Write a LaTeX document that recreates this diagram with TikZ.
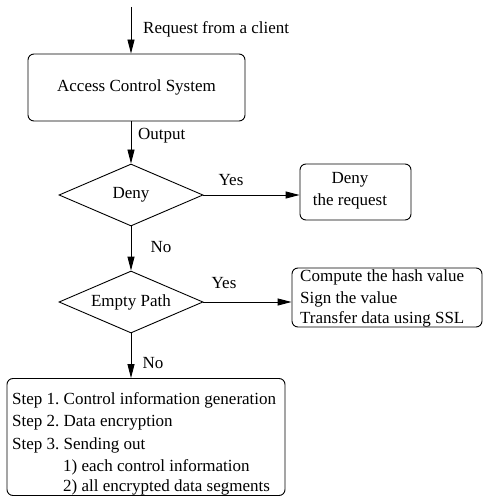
\documentclass[tikz,border=0pt]{standalone}
\usepackage{fontspec}
\setmainfont{Liberation Serif}
\usetikzlibrary{shapes.geometric,arrows.meta}
\begin{document}
\frenchspacing
\begin{tikzpicture}[x=1pt,y=-1pt,
  every node/.style={font=\fontsize{17}{22}\selectfont},
  box/.style={draw,line width=0.9pt,rounded corners=6pt,inner sep=0pt},
  dec/.style={draw,line width=0.9pt,diamond,shape aspect=2.3,inner sep=0pt,minimum width=144pt,minimum height=62pt},
  lbl/.style={inner sep=0pt},
  conn/.style={line width=0.9pt,-{Triangle[length=14pt,width=7pt]}}]
\useasboundingbox (0,0) rectangle (483,497);
\coordinate (start) at (131,7);
\node[box,minimum width=217pt,minimum height=67pt] (acs) at (136.5,87.5) {Access Control System};
\node[dec] (deny) at (131,195) {Deny};
\node[box,minimum width=111pt,minimum height=56pt] (req) at (355.5,192) {};
\node[lbl,align=center] (reqtxt) at (350,191) {Deny\\the request};
\node[dec] (empty) at (131,302) {Empty Path};
\node[box,minimum width=190pt,minimum height=59pt] (ssl) at (387,297.5) {};
\node[lbl,align=left,anchor=west] (ssltxt) at (300,298) {Compute the hash value\\Sign the value\\[-2pt]Transfer data using SSL};
\node[box,minimum width=278pt,minimum height=117pt] (steps) at (146,437) {};
\node[lbl,align=left,anchor=north west] (stepstxt) at (12,392)
 {Step 1. Control information generation\\Step 2. Data encryption\\[1pt]Step 3. Sending out\\\hspace{51pt}1) each control information\\[-2pt]\hspace{51pt}2) all encrypted data segments};
\draw[conn] (start) -- (start |- acs.north);
\draw[conn] (deny.north |- acs.south) -- (deny.north);
\draw[conn] (deny.east) -- (deny.east -| req.west);
\draw[conn] (deny.south) -- (empty.north);
\draw[conn] (empty.east) -- (empty.east -| ssl.west);
\draw[conn] (empty.south) -- (empty.south |- steps.north);
\node[lbl,anchor=west] (l1) at (143,29) {Request from a client};
\node[lbl,anchor=west] (l2) at (138,136) {Output};
\node[lbl] (l3) at (231,180) {Yes};
\node[lbl] (l4) at (161,247) {No};
\node[lbl] (l5) at (224,283) {Yes};
\node[lbl] (l6) at (153,363) {No};
\end{tikzpicture}
\end{document}
